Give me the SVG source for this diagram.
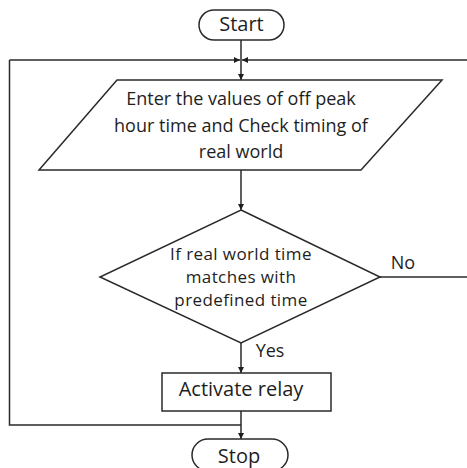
<svg xmlns="http://www.w3.org/2000/svg" width="467" height="468" viewBox="0 0 467 468">
<defs>
<style>
.s{fill:#fff;stroke:#2a2a2a;stroke-width:1.5}
.c{fill:none;stroke:#2a2a2a;stroke-width:1.5}
text{font-family:"Open Sans","Noto Sans",sans-serif;fill:#1e1e1e;text-anchor:middle}
.t17{font-size:17px;letter-spacing:0.4px}
.t18{font-size:18px}
.t20{font-size:20px}
</style>
<marker id="ah" markerUnits="userSpaceOnUse" markerWidth="8" markerHeight="8" refX="6" refY="3" orient="auto">
<path d="M0,0 L6,3 L0,6 Z" fill="#1e1e1e"/>
</marker>
</defs>
<rect width="467" height="468" fill="#fff"/>
<g id="connectors">
<line class="c" x1="241" y1="40" x2="241" y2="80" marker-end="url(#ah)"/>
<line class="c" x1="9.5" y1="60" x2="240" y2="60" marker-end="url(#ah)"/>
<line class="c" x1="467" y1="60" x2="242" y2="60" marker-end="url(#ah)"/>
<polyline class="c" points="241,425 9.5,425 9.5,60"/>
<line class="c" x1="241" y1="170" x2="241" y2="210" marker-end="url(#ah)"/>
<line class="c" x1="380" y1="277" x2="467" y2="277"/>
<line class="c" x1="241" y1="343" x2="241" y2="373" marker-end="url(#ah)"/>
<line class="c" x1="241" y1="411" x2="241" y2="439" marker-end="url(#ah)"/>
<text class="t18" x="403" y="269">No</text>
<text class="t18" x="270" y="357">Yes</text>
</g>
<g id="start">
<rect class="s" x="199" y="10" width="85" height="30" rx="15"/>
<text class="t20" x="241.5" y="31">Start</text>
</g>
<g id="input">
<polygon class="s" points="117,80 442,80 361,170 39,170"/>
<text class="t18" x="241" y="105">Enter the values of off peak</text>
<text class="t18" x="241" y="131.5">hour time and Check timing of</text>
<text class="t18" x="241" y="158">real world</text>
</g>
<g id="decision">
<polygon class="s" points="241,210 380,277 241,343 100,277"/>
<text class="t17" x="241" y="260">If real world time</text>
<text class="t17" x="241" y="283">matches with</text>
<text class="t17" x="241" y="306">predefined time</text>
</g>
<g id="activate">
<rect class="s" x="162" y="373" width="169" height="38"/>
<text class="t20" x="241" y="395.5">Activate relay</text>
</g>
<g id="stop">
<rect class="s" x="192" y="439" width="96" height="32" rx="16"/>
<text class="t20" x="239" y="463">Stop</text>
</g>
</svg>
